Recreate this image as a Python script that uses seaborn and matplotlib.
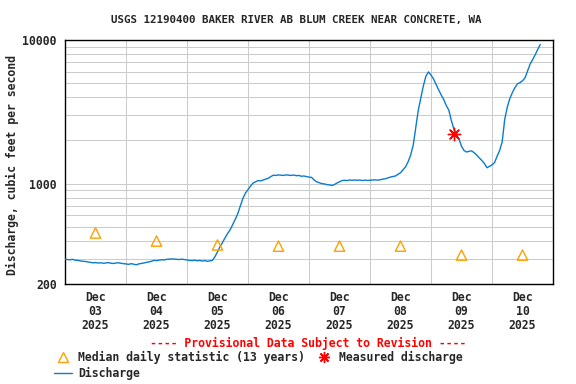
import pandas as pd
import numpy as np
import seaborn as sns
import matplotlib.pyplot as plt
from matplotlib.lines import Line2D
from matplotlib.ticker import FixedLocator, NullFormatter

TITLE = "USGS 12190400 BAKER RIVER AB BLUM CREEK NEAR CONCRETE, WA"
START = "2025-12-03 00:00"

# hourly discharge (cfs)
dec03 = [298, 296, 295, 297, 293, 292, 290, 288, 287, 285, 283, 281,
         282, 280, 281, 279, 280, 282, 279, 278, 280, 281, 279, 277]
dec04 = [276, 274, 277, 275, 272, 276, 278, 280, 283, 285, 288, 292,
         291, 293, 295, 294, 297, 298, 299, 298, 297, 296, 298, 296]
dec05 = [294, 292, 291, 293, 290, 292, 289, 291, 288, 290, 292, 310,
         335, 364, 390, 420, 450, 478, 520, 565, 620, 700, 790, 860]
dec06 = [910, 960, 1010, 1030, 1050, 1045, 1060, 1075, 1090, 1120, 1145, 1140,
         1150, 1145, 1140, 1150, 1145, 1140, 1148, 1135, 1140, 1125, 1130, 1120]
dec07 = [1110, 1105, 1060, 1030, 1015, 1000, 995, 985, 980, 970, 985, 1010,
         1030, 1050, 1055, 1050, 1060, 1055, 1060, 1055, 1060, 1050, 1058, 1052]
dec08 = [1055, 1060, 1062, 1058, 1062, 1075, 1080, 1095, 1110, 1120, 1130, 1160,
         1190, 1250, 1310, 1420, 1580, 1850, 2450, 3250, 3950, 4800, 5600, 6000]
dec09 = [5700, 5350, 4900, 4500, 4150, 3850, 3500, 3250, 2750, 2400, 2200, 2050,
         1820, 1700, 1660, 1680, 1690, 1640, 1580, 1510, 1450, 1380, 1290, 1320]
dec10 = [1350, 1400, 1550, 1700, 1950, 2800, 3400, 3900, 4300, 4650, 4950, 5050,
         5200, 5450, 6100, 6800, 7300, 7900, 8600, 9300]

median_days = ["2025-12-03", "2025-12-04", "2025-12-05", "2025-12-06",
               "2025-12-07", "2025-12-08", "2025-12-09", "2025-12-10"]
median_vals = [453, 398, 374, 367, 367, 367, 318, 318]

measured_time = "2025-12-09 09:00"
measured_val = 2215

day_labels = ["Dec\n03\n2025", "Dec\n04\n2025", "Dec\n05\n2025", "Dec\n06\n2025",
              "Dec\n07\n2025", "Dec\n08\n2025", "Dec\n09\n2025", "Dec\n10\n2025"]

flow = dec03 + dec04 + dec05 + dec06 + dec07 + dec08 + dec09 + dec10
df = pd.DataFrame({"time": pd.date_range(START, periods=len(flow), freq="h"),
                   "discharge": flow})
med = pd.DataFrame({"time": pd.to_datetime(median_days) + pd.Timedelta(hours=12),
                    "median": median_vals})

sns.set_style("white")
plt.rcParams["font.family"] = ["DejaVu Sans Mono"]
plt.rcParams["font.weight"] = "bold"
FS = 8.3
LINE_COLOR = "#0a7bd0"
MED_COLOR = "#ffa000"

fig = plt.figure(figsize=(5.76, 3.84), dpi=100)
ax = fig.add_axes([65 / 576, 1 - 284 / 384, 488 / 576, 244 / 384])

sns.lineplot(data=df, x="time", y="discharge", ax=ax, color=LINE_COLOR,
             linewidth=1.0, zorder=3)
sns.scatterplot(data=med, x="time", y="median", ax=ax, marker="^", s=55,
                facecolor="none", edgecolor=MED_COLOR, linewidth=1.0, zorder=4)
ax.scatter(pd.Timestamp(measured_time), measured_val, marker=(8, 2, 0), s=80,
           color="red", linewidth=1.0, zorder=5)

ax.set_yscale("log")
ax.set_ylim(200, 10000)
ax.yaxis.set_major_locator(FixedLocator([200, 1000, 10000]))
ax.set_yticklabels(["200", "1000", "10000"])
minors = [v * m for m in (100, 1000) for v in range(2, 10) if 200 < v * m < 10000]
ax.yaxis.set_minor_locator(FixedLocator(minors))
ax.yaxis.set_minor_formatter(NullFormatter())

days = pd.to_datetime(median_days)
ax.set_xlim(days[0], days[-1] + pd.Timedelta(days=1))
ax.set_xticks(days + pd.Timedelta(hours=12))
ax.set_xticklabels(day_labels, linespacing=1.12)
ax.set_xticks(list(days[1:]), minor=True)

ax.grid(which="minor", axis="both", color="#cccccc", linewidth=0.75)
ax.grid(which="major", axis="y", color="#cccccc", linewidth=0.75)
ax.grid(which="major", axis="x", visible=False)
ax.tick_params(which="both", length=0, labelsize=FS)
ax.tick_params(axis="x", pad=5)
ax.tick_params(axis="y", pad=6)
for s in ax.spines.values():
    s.set_color("black")
    s.set_linewidth(1.0)
ax.set_xlabel("")
ax.set_ylabel("")

fig.text(296 / 576, 1 - 20 / 384, TITLE, ha="center", va="center", fontsize=7.8)
fig.text(12 / 576, 1 - 165 / 384, "Discharge, cubic feet per second",
         rotation=90, ha="center", va="center", fontsize=FS)
fig.text(308 / 576, 1 - 343 / 384, "---- Provisional Data Subject to Revision ----",
         ha="center", va="center", fontsize=FS, color="red")

handles = [
    Line2D([], [], linestyle="none", marker="^", markersize=7.5,
           markerfacecolor="none", markeredgecolor=MED_COLOR),
    Line2D([], [], color=LINE_COLOR, linewidth=1.0),
    Line2D([], [], linestyle="none", marker=(8, 2, 0), markersize=8,
           color="red", markeredgewidth=1.0),
]
labels = ["Median daily statistic (13 years)", "Discharge", "Measured discharge"]
fig.legend(handles, labels, loc="upper left", bbox_to_anchor=(54 / 576, 1 - 351 / 384),
           ncol=2, frameon=False, fontsize=FS, borderpad=0, borderaxespad=0,
           handlelength=1.6, handletextpad=0.5, columnspacing=0.8, labelspacing=0.25)

fig.savefig("out.png", dpi=100)
